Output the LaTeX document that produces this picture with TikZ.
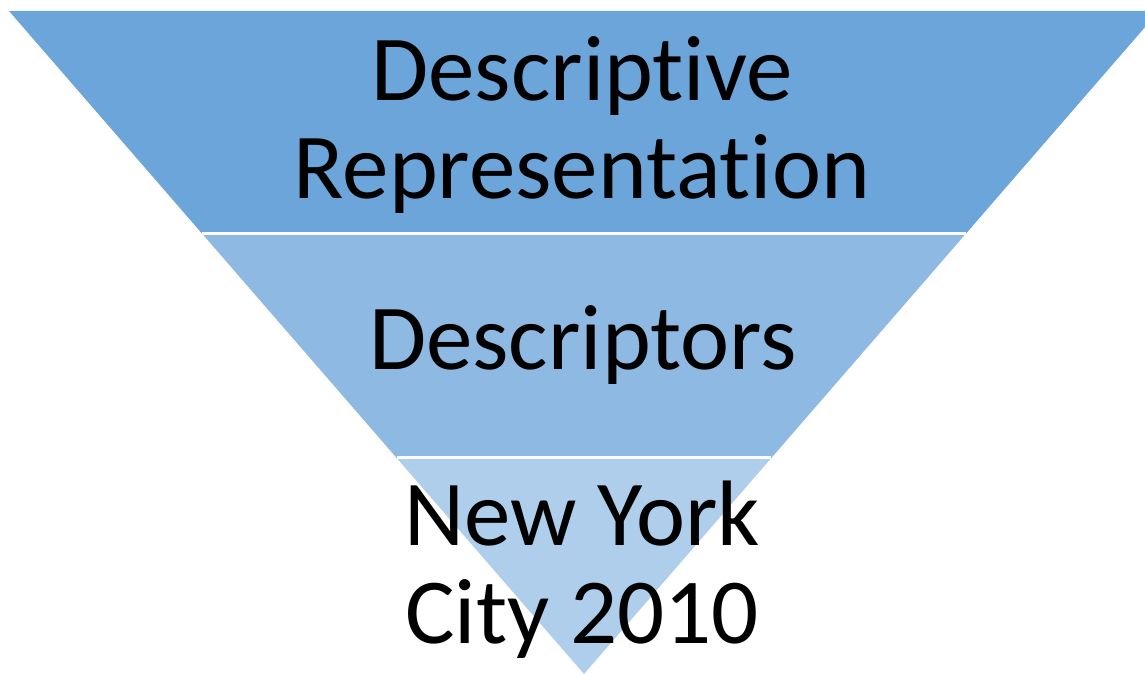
\documentclass[tikz,border=0pt]{standalone}
\usepackage{fontspec}
\setmainfont{Carlito}[Ligatures=NoCommon]
\usepackage{tikz}
\usetikzlibrary{calc}

\definecolor{bandtop}{RGB}{108,165,218}
\definecolor{bandmid}{RGB}{142,185,226}
\definecolor{bandlow}{RGB}{175,206,236}

\tikzset{
	funnel text/.style={font=\fontsize{93}{98}\selectfont, align=center, inner sep=0pt, anchor=base},
	band gap/.style={draw=white, line width=3pt}
}

\begin{document}
\begin{tikzpicture}[x=1pt, y=-1pt]
			%%%%% START %%%%%
			\useasboundingbox (0, 0) rectangle (1145, 674);
			\clip (0, 0) rectangle (1145, 674);
			
			\coordinate (L) at (9, 11);
			\coordinate (R) at (1159, 11);
			\coordinate (A) at (584, 674);
			
			% the three bands of the funnel
			\fill[bandtop] (L) -- (R) -- ($(R)!0.335!(A)$) -- ($(L)!0.335!(A)$) -- cycle;
			\fill[bandmid] ($(L)!0.335!(A)$) -- ($(R)!0.335!(A)$) -- ($(R)!0.674!(A)$) -- ($(L)!0.674!(A)$) -- cycle;
			\fill[bandlow] ($(L)!0.674!(A)$) -- ($(R)!0.674!(A)$) -- (A) -- cycle;
			
			\draw[band gap] ($(L)!0.335!(A)$) -- ($(R)!0.335!(A)$);
			\draw[band gap] ($(L)!0.674!(A)$) -- ($(R)!0.674!(A)$);
			
			% labels (base anchor sits on the last line)
			\node[funnel text] (top) at (582, 198) {Descriptive\\Representation};
			\node[funnel text] (mid) at (583, 369) {Descriptors};
			\node[funnel text] (low) at (582, 643) {New York\\City 2010};
			
			%%%%% END %%%%%
		\end{tikzpicture}
\end{document}
